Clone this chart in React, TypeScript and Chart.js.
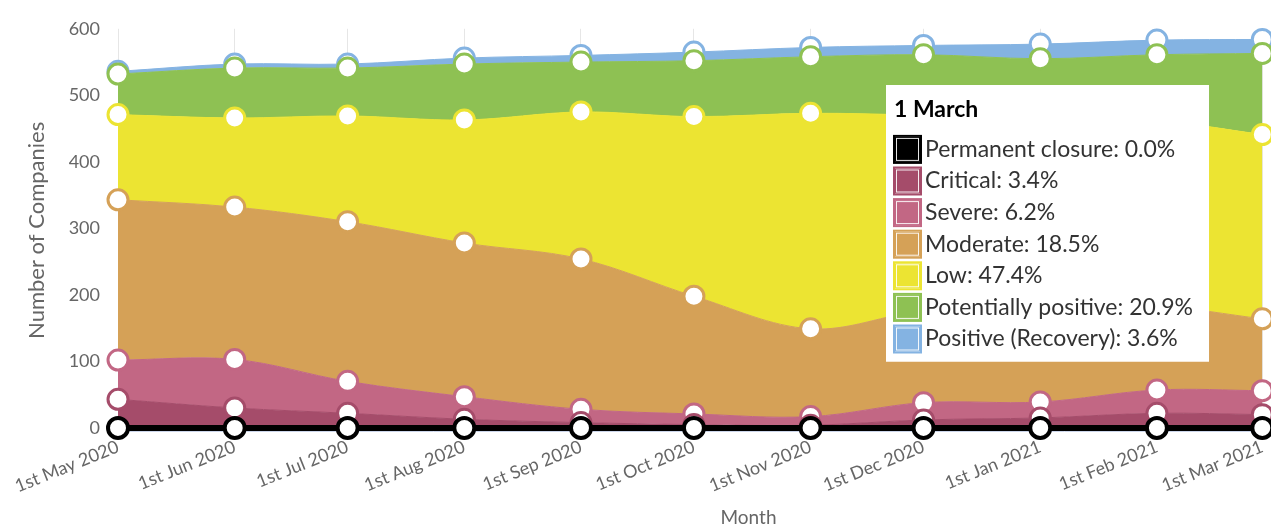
import React, { useEffect, useRef } from 'react';
import { Chart, registerables, Tooltip } from 'chart.js';

Chart.register(...registerables);

// ---------- data ----------
const monthLabels = [
  '1st May 2020', '1st Jun 2020', '1st Jul 2020', '1st Aug 2020', '1st Sep 2020',
  '1st Oct 2020', '1st Nov 2020', '1st Dec 2020', '1st Jan 2021', '1st Feb 2021', '1st Mar 2021',
];
// days since 1st May 2020
const monthDays = [0, 31, 61, 92, 123, 153, 184, 214, 245, 276, 304];
const axisMaxDay = 335; // 1st Apr 2021

const permanentClosure = [0, 0, 0, 0, 0, 0, 0, 0, 0, 0, 0];
const critical = [43, 30, 22, 13, 8, 5, 4, 12, 15, 22, 20];
const severe = [59, 73, 48, 34, 20, 16, 13, 26, 24, 35, 36];
const moderate = [241, 229, 240, 231, 226, 177, 132, 138, 141, 126, 108];
const low = [128, 134, 159, 185, 221, 270, 324, 294, 285, 279, 277];
const potentiallyPositive = [61, 75, 72, 84, 75, 84, 85, 91, 90, 99, 122];
const positiveRecovery = [4, 6, 6, 9, 10, 13, 14, 14, 22, 22, 21];

const seriesNames = [
  'Permanent closure', 'Critical', 'Severe', 'Moderate', 'Low',
  'Potentially positive', 'Positive (Recovery)',
];
const seriesValues = [permanentClosure, critical, severe, moderate, low, potentiallyPositive, positiveRecovery];
const seriesColors = ['#000000', '#a54c6a', '#c26784', '#d5a157', '#ece432', '#8ec153', '#84b3e2'];

const yTickValues = [0, 100, 200, 300, 400, 500, 600];
const yAxisTitle = 'Number of Companies';
const xAxisTitle = 'Month';
const tooltipTitle = '1 March';
const tooltipIndex = 10;

(Tooltip.positioners as any).fixedBox = function () {
  return { x: 886, y: 85 };
};

const FONT = 'Lato';
const TT = {
  titleSize: 23,
  bodySize: 23,
  padTop: 11,
  padBottom: 9,
  padLeft: 8,
  padRight: 16,
  titleMarginBottom: 12,
  bodySpacing: 4,
  box: 27,
};

// draws a thin white inner frame inside each tooltip colour key
const keyFramePlugin = {
  id: 'keyFrame',
  afterTooltipDraw(chart: any) {
    const tt = chart.tooltip;
    if (!tt || !tt.opacity) return;
    const ctx = chart.ctx;
    const titleLH = TT.titleSize * 1.2;
    const bodyLH = TT.bodySize * 1.2;
    const n = tt.labelColors ? tt.labelColors.length : 0;
    ctx.save();
    ctx.strokeStyle = 'rgba(255,255,255,0.9)';
    ctx.lineWidth = 1;
    for (let i = 0; i < n; i++) {
      const bx = tt.x + TT.padLeft;
      const by = tt.y + TT.padTop + titleLH + TT.titleMarginBottom + i * (bodyLH + TT.bodySpacing) + bodyLH / 2 - TT.box / 2;
      ctx.strokeRect(bx + 2.5, by + 2.5, TT.box - 5, TT.box - 5);
    }
    ctx.restore();
  },
};

export default function App() {
  const ref = useRef<HTMLCanvasElement>(null);

  useEffect(() => {
    const datasets = seriesValues.map((vals, i) => ({
      label: seriesNames[i],
      data: vals.map((v, j) => ({ x: monthDays[j], y: v })),
      backgroundColor: seriesColors[i],
      borderColor: seriesColors[i],
      borderWidth: i === 0 ? 6 : 1,
      fill: i === 0 ? 'origin' : '-1',
      pointRadius: 10,
      pointHoverRadius: 10,
      pointBorderWidth: i === 0 ? 4 : 3,
      pointBackgroundColor: '#ffffff',
      pointBorderColor: seriesColors[i],
      tension: 0.35,
      clip: false as any,
    }));

    const totals = monthDays.map((_, j) => seriesValues.reduce((s, arr) => s + arr[j], 0));

    const chart = new Chart(ref.current!, {
      type: 'line',
      data: { datasets: datasets as any },
      plugins: [keyFramePlugin as any],
      options: {
        responsive: false,
        animation: false,
        events: [],
        layout: { padding: { left: 0, right: 21, top: 27, bottom: 0 } },
        plugins: {
          legend: { display: false },
          tooltip: {
            enabled: true,
            position: 'fixedBox' as any,
            backgroundColor: '#ffffff',
            titleColor: '#000000',
            bodyColor: '#333333',
            titleFont: { family: FONT, size: TT.titleSize, weight: 'bold' },
            bodyFont: { family: FONT, size: TT.bodySize },
            padding: { top: TT.padTop, bottom: TT.padBottom, left: TT.padLeft, right: TT.padRight },
            titleMarginBottom: TT.titleMarginBottom,
            bodySpacing: TT.bodySpacing,
            boxWidth: TT.box,
            boxHeight: TT.box,
            boxPadding: 2,
            caretSize: 0,
            caretPadding: 0,
            cornerRadius: 0,
            xAlign: 'left',
            yAlign: 'top',
            displayColors: true,
            multiKeyBackground: '#ffffff',
            borderWidth: 0,
            callbacks: {
              title: () => tooltipTitle,
              label: (ctx: any) => {
                const v = ctx.parsed.y;
                const pct = (v / totals[ctx.dataIndex]) * 100;
                return `${ctx.dataset.label}: ${pct.toFixed(1)}%`;
              },
              labelColor: (ctx: any) => ({
                borderColor: seriesColors[ctx.datasetIndex],
                backgroundColor: seriesColors[ctx.datasetIndex],
                borderWidth: 2,
              }),
            },
          },
        },
        scales: {
          x: {
            type: 'linear',
            min: 0,
            max: axisMaxDay,
            afterBuildTicks: (s: any) => {
              s.ticks = monthDays.map((v) => ({ value: v }));
            },
            afterFit: (s: any) => {
              s.paddingLeft = 0;
              s.paddingRight = 0;
            },
            ticks: {
              callback: (_v: any, idx: number) => monthLabels[idx],
              minRotation: 22,
              maxRotation: 22,
              autoSkip: false,
              color: '#666666',
              font: { family: FONT, size: 18 },
              padding: 4,
            },
            grid: { color: '#e6e6e6', drawTicks: false, lineWidth: 1 },
            border: { color: '#ccd6eb', width: 1 },
            title: {
              display: true,
              text: xAxisTitle,
              color: '#666666',
              font: { family: FONT, size: 19 },
              padding: { top: 5, bottom: -1 },
            },
          },
          y: {
            stacked: true,
            min: -6,
            max: 600,
            afterBuildTicks: (s: any) => {
              s.ticks = yTickValues.map((v) => ({ value: v }));
            },
            afterFit: (s: any) => {
              s.width = 118;
            },
            ticks: {
              color: '#666666',
              font: { family: FONT, size: 18 },
              padding: 18,
            },
            grid: { display: false, drawTicks: false },
            border: { display: false },
            title: {
              display: true,
              text: yAxisTitle,
              color: '#666666',
              font: { family: FONT, size: 22 },
              padding: { top: 24, bottom: 10 },
            },
          },
        },
      } as any,
    });

    chart.tooltip?.setActiveElements(
      seriesNames.map((_, i) => ({ datasetIndex: i, index: tooltipIndex })),
      { x: 0, y: 0 },
    );
    chart.update();

    return () => chart.destroy();
  }, []);

  return (
    <div
      style={{
        position: 'fixed', left: 0, top: 0, width: 1271, height: 528,
        overflow: 'hidden', background: '#ffffff',
      }}
    >
      <canvas ref={ref} width={1400} height={528} style={{ display: 'block', width: 1400, height: 528 }} />
    </div>
  );
}
